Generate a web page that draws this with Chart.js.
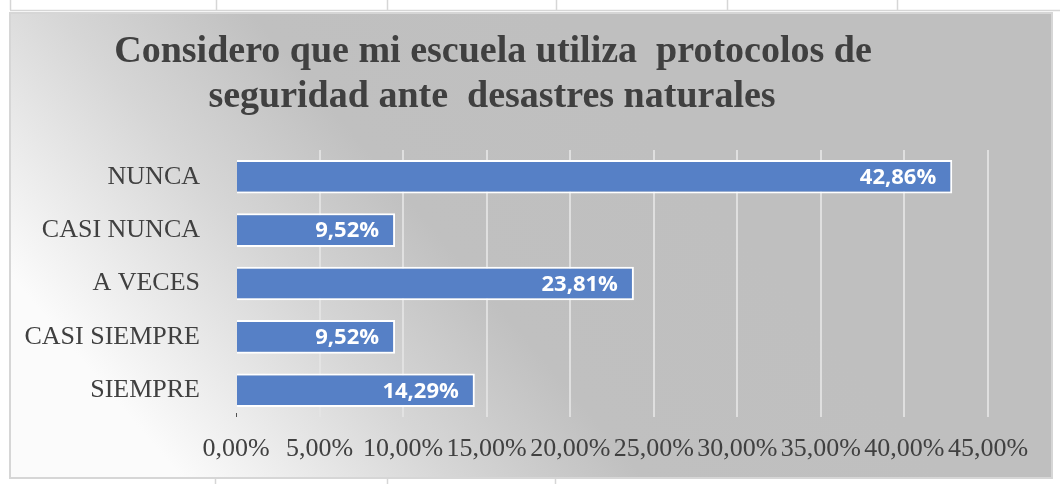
<!DOCTYPE html>
<html>
<head>
<meta charset="utf-8">
<script src="https://cdn.jsdelivr.net/npm/chart.js@4.4.1/dist/chart.umd.min.js"></script>
<style>
  html, body { margin: 0; padding: 0; background: #fff; }
  canvas { display: block; }
</style>
</head>
<body>
<canvas id="protocolos_chart" width="1060" height="484"></canvas>
<script>
// datos
const categories = ['NUNCA', 'CASI NUNCA', 'A VECES', 'CASI SIEMPRE', 'SIEMPRE'];
const percentages = [42.86, 9.52, 23.81, 9.52, 14.29];
const xTickLabels = ['0,00%', '5,00%', '10,00%', '15,00%', '20,00%', '25,00%', '30,00%', '35,00%', '40,00%', '45,00%'];
const titleLines = ['Considero que mi escuela utiliza  protocolos de', 'seguridad ante  desastres naturales'];

const serif = '"Liberation Serif", "Times New Roman", serif';

// fondo con degradado + marco + lineas de la tabla
const backgroundPlugin = {
    id: 'fondo',
    beforeDraw(chart) {
        const ctx = chart.ctx;
        ctx.save();
        ctx.fillStyle = '#ffffff';
        ctx.fillRect(0, 0, chart.width, chart.height);

        let grad = ctx.createLinearGradient(200, 500, 650, 120);
        grad.addColorStop(0, '#fbfbfb');
        grad.addColorStop(0.35, '#d6d6d6');
        grad.addColorStop(0.6, '#c0c0c0');
        grad.addColorStop(1, '#bfbfbf');
        ctx.fillStyle = grad;
        ctx.fillRect(10, 13, 1042, 465);

        ctx.strokeStyle = '#d6d6d6';
        ctx.lineWidth = 2;
        ctx.strokeRect(10, 13, 1042, 465);

        // lineas de la tabla alrededor
        ctx.beginPath();
        ctx.moveTo(10, 10.5); ctx.lineTo(1060, 10.5);
        [10, 216, 387, 556, 727, 897].forEach(x => {
            ctx.moveTo(x + 0.5, 0); ctx.lineTo(x + 0.5, 10);
        });
        [215, 387, 555].forEach(x => {
            ctx.moveTo(x + 0.5, 479); ctx.lineTo(x + 0.5, 484);
        });
        ctx.lineWidth = 1.5;
        ctx.stroke();
        ctx.restore();
    }
};

const titlePlugin = {
    id: 'titulo',
    afterDraw(chart) {
        const ctx = chart.ctx;
        ctx.save();
        ctx.font = 'bold 38px ' + serif;
        ctx.fillStyle = '#404040';
        ctx.textAlign = 'center';
        ctx.textBaseline = 'alphabetic';
        ctx.fillText(titleLines[0], 493, 62);
        ctx.fillText(titleLines[1], 492, 107);

        // pequeña marca en el origen del eje
        const area = chart.chartArea;
        ctx.strokeStyle = '#505050';
        ctx.lineWidth = 1;
        ctx.beginPath();
        ctx.moveTo(area.left + 0.5, area.bottom - 4);
        ctx.lineTo(area.left + 0.5, area.bottom);
        ctx.stroke();
        ctx.restore();
    }
};

// etiquetas de datos dentro del final de la barra
const labelsPlugin = {
    id: 'etiquetas',
    afterDatasetsDraw(chart) {
        const ctx = chart.ctx;
        const meta = chart.getDatasetMeta(0);
        ctx.save();
        ctx.font = 'bold 22px "Open Sans", sans-serif';
        ctx.fillStyle = '#ffffff';
        ctx.textAlign = 'right';
        ctx.textBaseline = 'middle';
        meta.data.forEach((bar, i) => {
            const txt = percentages[i].toFixed(2).replace('.', ',') + '%';
            ctx.fillText(txt, bar.x - 16, bar.y + 1);
        });
        ctx.restore();
    }
};

let myChart = document.getElementById('protocolos_chart').getContext('2d');

let protocolosChart = new Chart(myChart, {
    type: 'bar',
    data: {
        labels: categories,
        datasets: [{
            data: percentages,
            backgroundColor: '#5680c6',
            borderColor: '#ffffff',
            borderWidth: 2,
            barPercentage: 0.63,
            categoryPercentage: 1.0
        }]
    },
    options: {
        indexAxis: 'y',
        responsive: false,
        animation: false,
        layout: {
            padding: { top: 150, bottom: 0, left: 10, right: 72 }
        },
        plugins: {
            legend: { display: false },
            title: { display: false },
            tooltip: { enabled: false }
        },
        scales: {
            x: {
                min: 0,
                max: 45,
                afterFit: scale => { scale.height = 67; },
                ticks: {
                    stepSize: 5,
                    autoSkip: false,
                    maxRotation: 0,
                    minRotation: 0,
                    padding: 17,
                    color: '#404040',
                    font: { family: serif, size: 26 },
                    callback: (value, index) => xTickLabels[index]
                },
                grid: {
                    drawTicks: false,
                    lineWidth: 2,
                    color: c => c.index === 0 ? 'rgba(0,0,0,0)' : 'rgba(228,228,228,0.85)'
                },
                border: { display: false }
            },
            y: {
                afterFit: scale => { scale.width = 226; },
                ticks: {
                    padding: 28,
                    color: '#404040',
                    font: { family: serif, size: 26 }
                },
                grid: { display: false },
                border: { display: false }
            }
        }
    },
    plugins: [backgroundPlugin, titlePlugin, labelsPlugin]
});
</script>
</body>
</html>
